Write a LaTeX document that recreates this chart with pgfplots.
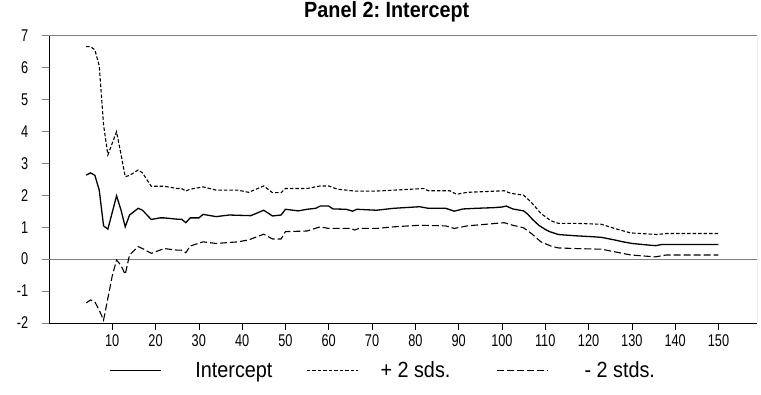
\documentclass[border=0pt]{standalone}
\usepackage{pgfplots}
\pgfplotsset{compat=1.18}
\usepackage{fontspec}
\setmainfont{Liberation Sans}
\newfontfamily\tickfont[FakeStretch=0.75]{Liberation Sans}
\newfontfamily\txtfont[FakeStretch=0.9]{Liberation Sans}
\frenchspacing
\begin{document}
\begin{tikzpicture}
\begin{axis}[
 name=ax,
 scale only axis,
 width=708bp, height=287.5bp,
 xmin=-4.6, xmax=158.9, ymin=-2, ymax=7,
 axis lines=left,
 axis line style={-, black, line width=0.8bp},
 xtick={10,20,30,40,50,60,70,80,90,100,110,120,130,140,150},
 xticklabels={10,20,30,40,50,60,70,80,90,100,110,120,130,140,150},
 ytick={-2,-1,0,1,2,3,4,5,6,7},
 yticklabels={-2,-1,0,1,2,3,4,5,6,7},
 tick align=outside,
 major tick length=7bp,
 xtick style={black, line width=0.6bp},
 ytick style={gray, line width=0.8bp},
 xticklabel style={font=\tickfont\fontsize{17bp}{20bp}\selectfont, anchor=base, inner sep=0pt, yshift=-17bp},
 yticklabel style={font=\tickfont\fontsize{17bp}{20bp}\selectfont, anchor=east, inner sep=0pt, xshift=-13.5bp},
 title={Panel 2: Intercept},
 title style={font=\txtfont\bfseries\fontsize{22bp}{26bp}\selectfont, at={(0.477,1)}, anchor=base, yshift=12.5bp, inner sep=0pt},
 legend columns=3,
 legend style={at={(0.0846,-0.165)}, anchor=west, draw=none, fill=none, inner sep=0pt,
   font=\txtfont\fontsize{22bp}{26bp}\selectfont, nodes={inner sep=0pt},
   /tikz/column 1/.style={column sep=34bp},
   /tikz/column 2/.style={column sep=34bp},
   /tikz/column 3/.style={column sep=22bp},
   /tikz/column 4/.style={column sep=46bp},
   /tikz/column 5/.style={column sep=36bp}},
 legend image code/.code={\draw[#1] (0bp,0bp) -- (51bp,0bp);},
]
\addplot[gray, line width=0.8bp, forget plot] coordinates {(-4.6,0) (158.9,0)};
\draw[gray, line width=0.8bp] (rel axis cs:0,1) -- (rel axis cs:1,1) -- (rel axis cs:1,0);
% Intercept
\addplot[black, line width=1.3bp] coordinates {
(4,2.63) (5,2.70) (6,2.62) (7,2.16) (8,1.04) (9,0.94) (11,1.98) (12,1.55) (13,1.01)
(14,1.38) (16,1.59) (17,1.53) (19,1.24) (21,1.29) (22,1.29) (25,1.25) (26,1.25)
(27,1.14) (28,1.29) (30,1.29) (31,1.40) (34,1.33) (37,1.38) (42,1.36) (45,1.53)
(47,1.35) (49,1.38) (50,1.56) (53,1.51) (55,1.56) (57,1.59) (58,1.66) (60,1.66)
(61,1.57) (64,1.56) (65.5,1.50) (66.5,1.56) (71,1.53) (75,1.59) (81,1.64) (83,1.59)
(87,1.59) (89,1.50) (91,1.57) (94,1.59) (98,1.61) (100,1.63) (101,1.66) (102.5,1.57)
(105,1.51) (106,1.40) (107,1.25) (108.5,1.06) (110,0.93) (111,0.86) (113,0.77)
(117,0.73) (121,0.70) (123,0.68) (126,0.60) (128,0.54) (130,0.49) (133,0.45)
(135.5,0.42) (137,0.46) (150,0.46)};
\addlegendentry{Intercept}
% +2 sds
\addplot[black, line width=1.1bp, dash pattern=on 3.5bp off 2bp] coordinates {
(4,6.65) (5,6.65) (6,6.55) (7,6.05) (8,4.2) (9,3.26) (11,3.99) (12,3.3) (13,2.58)
(14,2.62) (16,2.79) (17,2.70) (19,2.28) (22,2.28) (25,2.21) (26,2.21) (27,2.13)
(28,2.19) (31,2.26) (34,2.16) (39,2.16) (41.5,2.09) (45,2.29) (47,2.08) (49,2.08)
(50,2.21) (55,2.21) (58,2.29) (60,2.29) (62,2.19) (66,2.13) (71,2.13) (78,2.18)
(82,2.21) (83,2.14) (88,2.14) (89.5,2.03) (92,2.09) (100.5,2.14) (102,2.06) (105,2.00)
(106.7,1.79) (109,1.43) (111.3,1.20) (113,1.12) (117,1.12) (123,1.09) (126,0.96)
(129.7,0.82) (135.8,0.77) (138,0.80) (150,0.80)};
\addlegendentry{+ 2 sds.}
% -2 stds
\addplot[black, line width=1.1bp, dash pattern=on 7bp off 3bp] coordinates {
(4,-1.37) (5,-1.28) (6,-1.34) (7,-1.6) (8,-1.91) (9,-1.22) (10,-0.53) (11,-0.03)
(12,-0.19) (13,-0.48) (14,0.13) (16,0.39) (17,0.33) (19,0.18) (22,0.33) (25,0.28)
(26,0.28) (27,0.20) (28,0.41) (31,0.54) (34,0.49) (39,0.54) (41.5,0.60) (45,0.78)
(47,0.63) (49,0.63) (50,0.86) (55,0.88) (58,1.01) (60,0.96) (65,0.96) (66,0.91)
(67,0.96) (71,0.96) (75,1.01) (81,1.06) (87,1.04) (89,0.96) (92,1.04) (100.5,1.14)
(102.5,1.06) (105,0.98) (107,0.78) (109,0.54) (111.3,0.41) (113,0.35) (117,0.33)
(123,0.31) (126,0.23) (129.7,0.13) (135.4,0.07) (138,0.13) (150,0.13)};
\addlegendentry{- 2 stds.}
\end{axis}
\pgfresetboundingbox
\path[use as bounding box] ([shift={(-49bp,-72bp)}]ax.south west) rectangle ([shift={(4bp,35.5bp)}]ax.north east);
\end{tikzpicture}
\end{document}
